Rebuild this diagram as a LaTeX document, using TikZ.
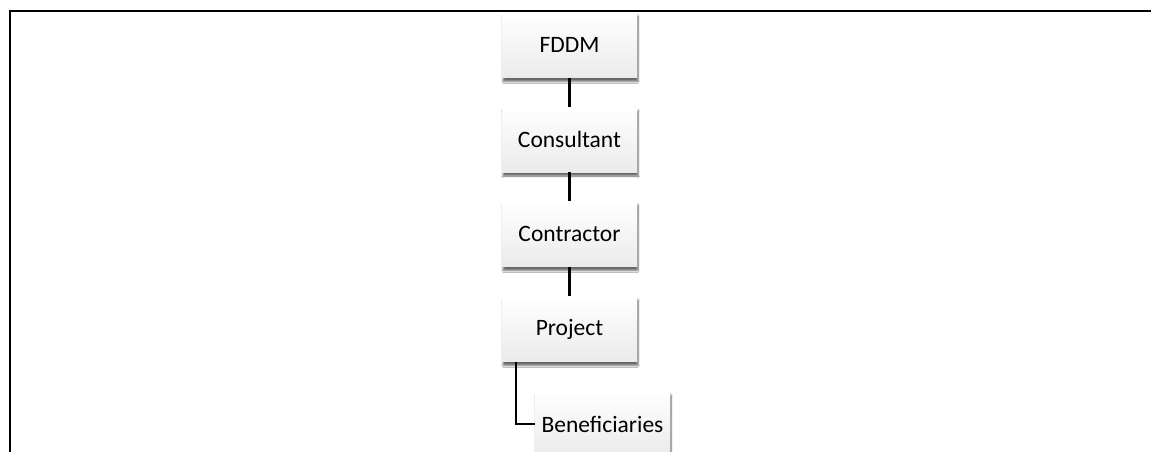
\documentclass[tikz,border=0pt]{standalone}
\usepackage{fontspec}
\setmainfont{Carlito}
\usetikzlibrary{shadows.blur}
\begin{document}
\begin{tikzpicture}[x=1pt,y=-1pt,
  orgbox/.style={minimum width=135pt, minimum height=65pt, inner sep=0pt,
    top color=white, bottom color=gray!16, draw=none,
    blur shadow={shadow xshift=1pt, shadow yshift=-4pt, shadow blur steps=6, shadow opacity=60},
    font=\fontsize{23.5}{28}\selectfont},
  link/.style={line width=2.2pt, black}]
\useasboundingbox (0,0) rectangle (1151,452);
\begin{scope}
\clip (0,0) rectangle (1151,452);
\fill[white] (0,0) rectangle (1151,452);
\draw[line width=2.2pt] (10,460) -- (10,11) -- (1160,11);
\node[orgbox] (fddm) at (569.5,45) {FDDM};
\node[orgbox] (cons) at (569.5,139.5) {Consultant};
\node[orgbox] (contr) at (569.5,234) {Contractor};
\node[orgbox] (proj) at (569.5,329) {Project};
\node[orgbox] (ben) at (602.5,424) {Beneficiaries};
\draw[link] (fddm) -- (cons);
\draw[link] (cons) -- (contr);
\draw[link] (contr) -- (proj);
\coordinate (elb) at ([xshift=14pt]proj.south west);
\draw[link] (elb) |- (ben.west);
\end{scope}
\end{tikzpicture}
\end{document}
